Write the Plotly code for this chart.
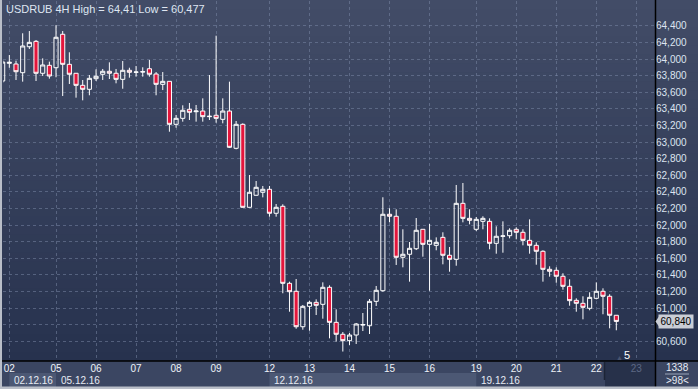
import plotly.graph_objects as go

# ---------------- data ----------------
bar_index = list(range(-1, 92))
opens = [63737, 63950, 63942, 63837, 64150, 64215, 63830, 63926, 63897, 64300,
         63938, 63830, 63685, 63637, 63765, 63818, 63854, 63830, 63757, 63866,
         63842, 63845, 63885, 63821, 63697, 63733, 63215, 63287, 63396, 63367,
         63375, 63307, 63324, 63275, 63375, 62926, 63215, 62215, 62360, 62396,
         62432, 62143, 62227, 61299, 61203, 60776, 61022, 61070, 61046, 61251,
         60829, 60685, 60608, 60676, 60797, 60788, 61082, 61210, 62131, 62107,
         61613, 61649, 61716, 61950, 61769, 61757, 61853, 61637, 61588, 62263,
         62082, 61950, 62046, 62046, 61781, 61866, 61873, 61950, 61914, 61817,
         61757, 61685, 61468, 61456, 61384, 61263, 61094, 61058, 60998, 61118,
         61203, 61143, 60914]
highs = [63990, 64050, 63982, 64312, 64339, 64231, 64010, 63970, 64410, 64339,
         64083, 63833, 63749, 63809, 63878, 63882, 63962, 63882, 63978, 63897,
         63918, 63902, 63990, 63845, 63845, 63733, 63327, 63444, 63472, 63448,
         63528, 63809, 64283, 63528, 63729, 63255, 63227, 62604, 62532, 62472,
         62472, 62255, 62251, 61319, 61351, 61038, 61090, 61106, 61311, 61275,
         60986, 60712, 60700, 60821, 60941, 61110, 61267, 62336, 62203, 62191,
         61950, 61797, 62086, 61950, 62014, 61853, 61914, 61737, 62484, 62508,
         62191, 62098, 62107, 62082, 61986, 62046, 61962, 61974, 61950, 62070,
         61793, 61697, 61504, 61492, 61420, 61347, 61118, 61143, 61191, 61311,
         61239, 61167, 60914]
lows = [63713, 63897, 63749, 63729, 64123, 63737, 63797, 63765, 63782, 63556,
        63701, 63536, 63504, 63565, 63737, 63749, 63761, 63709, 63644, 63777,
        63789, 63789, 63789, 63565, 63628, 63126, 63174, 63247, 63267, 63247,
        63247, 63267, 63234, 63227, 62930, 62914, 62213, 62213, 62357, 62335,
        62102, 62102, 61179, 60957, 60752, 60740, 60728, 60917, 60873, 60636,
        60596, 60477, 60556, 60568, 60724, 60688, 61026, 61198, 62034, 61520,
        61492, 61319, 61700, 61620, 61210, 61697, 61528, 61439, 61511, 62034,
        62010, 61929, 61950, 61709, 61656, 61668, 61841, 61829, 61757, 61656,
        61523, 61319, 61379, 61306, 61222, 61029, 60957, 60865, 60974, 61106,
        60926, 60757, 60733]
closes = [63966, 63962, 63849, 64159, 64203, 63830, 63930, 63797, 64264, 63938,
          63818, 63685, 63637, 63769, 63794, 63854, 63830, 63757, 63866, 63842,
          63845, 63849, 63818, 63697, 63733, 63215, 63287, 63384, 63360, 63375,
          63307, 63312, 63287, 63375, 62938, 63215, 62215, 62396, 62456, 62432,
          62143, 62215, 61299, 61198, 60776, 61022, 61070, 61034, 61251, 60829,
          60685, 60608, 60676, 60809, 60801, 61082, 61215, 62131, 62107, 61613,
          61649, 61721, 61938, 61769, 61817, 61793, 61637, 61588, 62263, 62082,
          62058, 62070, 62082, 61781, 61866, 61870, 61938, 61914, 61817, 61757,
          61685, 61468, 61444, 61384, 61263, 61090, 61058, 61010, 61130, 61203,
          61143, 60914, 60840]

day_tick_pos = [0, 7, 13, 19, 25, 31, 39, 45, 51, 57, 63, 70, 76, 82, 88, 94]
day_tick_labels = ["02", "05", "06", "07", "08", "09", "12", "13", "14", "15",
                   "16", "19", "20", "21", "22", "23"]
week_label_pos = [0, 7, 39, 70]
week_labels = ["02.12.16", "05.12.16", "12.12.16", "19.12.16"]
price_ticks = [60600, 60800, 61000, 61200, 61400, 61600, 61800, 62000, 62200,
               62400, 62600, 62800, 63000, 63200, 63400, 63600, 63800, 64000,
               64200, 64400]
title_text = "USDRUB 4H High = 64,41 Low = 60,477"
last_price = 60840

# ---------------- figure ----------------
W, H = 698, 389
ML, MR, MT, MB = 3, 43, 1, 28
PW, PH = W - ML - MR, H - MT - MB


def px_x(p):
    return (p - ML) / PW


def px_y(p):
    return (H - MB - p) / PH


FONT = "Liberation Sans, Arial, sans-serif"
GRID = "rgba(125,140,170,0.5)"

fig = go.Figure()
fig.add_trace(go.Candlestick(
    x=bar_index, open=opens, high=highs, low=lows, close=closes,
    increasing=dict(line=dict(color="#ffffff", width=1), fillcolor="rgba(0,0,0,0)"),
    decreasing=dict(line=dict(color="#ffffff", width=1), fillcolor="#e3163c"),
    whiskerwidth=0, showlegend=False, hoverinfo="skip",
))

shapes = []
# vertical gradient background (plot + price scale)
n = 40
top_c = (66, 76, 103)
bot_c = (39, 50, 78)
for i in range(n):
    t = i / (n - 1)
    c = tuple(int(round(top_c[j] + (bot_c[j] - top_c[j]) * t)) for j in range(3))
    y0 = i * (H - MB) / n
    y1 = (i + 1) * (H - MB) / n + 0.6
    shapes.append(dict(type="rect", xref="paper", yref="paper",
                       x0=px_x(0), x1=px_x(W), y0=px_y(y1), y1=px_y(y0),
                       fillcolor="rgb(%d,%d,%d)" % c, line=dict(width=0), layer="below"))
# bottom strip
shapes.append(dict(type="rect", xref="paper", yref="paper", x0=px_x(0), x1=px_x(W),
                   y0=px_y(H), y1=px_y(H - MB), fillcolor="#3b4662",
                   line=dict(width=0), layer="below"))
# week shading boxes
for a, b in [(week_label_pos[0], week_label_pos[1]), (week_label_pos[2], week_label_pos[3])]:
    shapes.append(dict(type="rect", xref="x", yref="paper", x0=a, x1=b,
                       y0=px_y(387), y1=px_y(373), fillcolor="#4c5874",
                       line=dict(width=0), layer="below"))
# future region on time scale
shapes.append(dict(type="rect", xref="paper", yref="paper", x0=px_x(605), x1=px_x(655),
                   y0=px_y(387), y1=px_y(362), fillcolor="#27314a",
                   line=dict(width=0), layer="below"))
shapes.append(dict(type="line", xref="paper", yref="paper", x0=px_x(604.5), x1=px_x(604.5),
                   y0=px_y(380), y1=px_y(362), line=dict(color="#1c2436", width=1.5)))
# separator lines
shapes.append(dict(type="line", xref="paper", yref="paper", x0=px_x(655.5), x1=px_x(655.5),
                   y0=px_y(387), y1=px_y(0), line=dict(color="#000000", width=1.5)))
shapes.append(dict(type="line", xref="paper", yref="paper", x0=px_x(0), x1=px_x(W),
                   y0=px_y(361), y1=px_y(361), line=dict(color="#000000", width=1.5)))
# outer light borders
shapes.append(dict(type="rect", xref="paper", yref="paper", x0=px_x(0), x1=px_x(2),
                   y0=px_y(H), y1=px_y(0), fillcolor="#b9bec8", line=dict(width=0)))
shapes.append(dict(type="rect", xref="paper", yref="paper", x0=px_x(0), x1=px_x(W),
                   y0=px_y(H), y1=px_y(386.5), fillcolor="#b9bec8", line=dict(width=0)))
# small line in counter box
shapes.append(dict(type="line", xref="paper", yref="paper", x0=px_x(665), x1=px_x(689),
                   y0=px_y(374), y1=px_y(374), line=dict(color="#9aa4b8", width=1)))
# price-label pointer
shapes.append(dict(type="path", xref="paper", yref="y",
                   path="M %f,%f L %f,%f L %f,%f Z" % (px_x(655.5), last_price,
                                                       px_x(659), last_price + 60,
                                                       px_x(659), last_price - 60),
                   fillcolor="#c9cdd5", line=dict(width=0)))

annotations = [
    dict(text=title_text, xref="paper", yref="paper", x=px_x(4), y=px_y(9),
         xanchor="left", yanchor="middle", showarrow=False,
         font=dict(family=FONT, size=11, color="#dfe6f2")),
    dict(text="60,840", xref="paper", yref="y", x=px_x(658), y=last_price,
         xanchor="left", yanchor="middle", showarrow=False,
         bgcolor="#c9cdd5", borderpad=1, width=32,
         font=dict(family=FONT, size=10, color="#000000")),
    dict(text="5", xref="paper", yref="paper", x=px_x(627), y=px_y(355),
         xanchor="center", yanchor="middle", showarrow=False,
         font=dict(family=FONT, size=11, color="#ffffff")),
    dict(text="▲", xref="paper", yref="paper", x=px_x(619), y=px_y(357),
         xanchor="center", yanchor="middle", showarrow=False,
         font=dict(family=FONT, size=7, color="#4a5570")),
    dict(text="1338", xref="paper", yref="paper", x=px_x(677), y=px_y(367),
         xanchor="center", yanchor="middle", showarrow=False,
         font=dict(family=FONT, size=10, color="#e6ebf3")),
    dict(text="&gt;98&lt;", xref="paper", yref="paper", x=px_x(677), y=px_y(380),
         xanchor="center", yanchor="middle", showarrow=False,
         font=dict(family=FONT, size=10, color="#e6ebf3")),
]
for pos, lab in zip(week_label_pos, week_labels):
    annotations.append(dict(text=lab, xref="x", yref="paper", x=pos, y=px_y(380),
                            xanchor="left", yanchor="middle", xshift=3, showarrow=False,
                            font=dict(family=FONT, size=10, color="#e6ebf3")))

x_ticktext = [lab if lab != "23" else "<span style='color:#5d6884'>23</span>"
              for lab in day_tick_labels]
# the 60,800 label sits under the last-price marker
y_ticktext = ["" if v == 60800 else "{:,}".format(v) for v in price_ticks]

fig.update_layout(
    width=W, height=H, margin=dict(l=ML, r=MR, t=MT, b=MB),
    paper_bgcolor="#3b4662", plot_bgcolor="rgba(0,0,0,0)",
    shapes=shapes, annotations=annotations, showlegend=False,
    boxgap=0.38, boxgroupgap=0,
    xaxis=dict(range=[-0.95, 96.8], tickvals=day_tick_pos, ticktext=x_ticktext,
               showgrid=True, gridcolor=GRID, griddash="3px,3px", gridwidth=1,
               ticks="", tickfont=dict(family=FONT, size=10, color="#eef2f8"),
               rangeslider=dict(visible=False), zeroline=False, fixedrange=True),
    yaxis=dict(range=[60363, 64701], side="right", tickvals=price_ticks,
               ticktext=y_ticktext, showgrid=True, gridcolor=GRID, griddash="3px,3px",
               ticks="", tickfont=dict(family=FONT, size=10, color="#dde4f0"),
               zeroline=False, fixedrange=True),
)

fig.write_html("out.html", config={"displayModeBar": False},
               post_script="document.body.style.margin='0px';document.body.style.overflow='hidden';")
